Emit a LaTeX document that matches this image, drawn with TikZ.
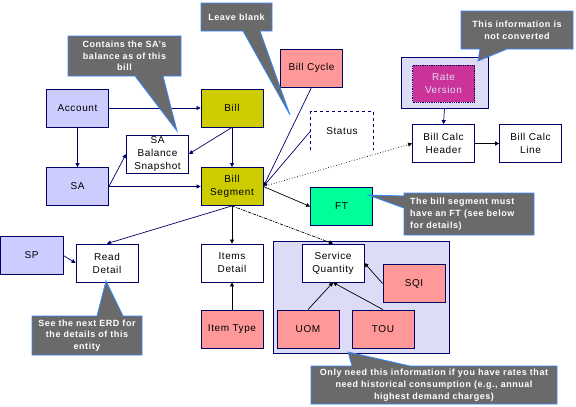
\documentclass[tikz,border=0pt]{standalone}
\usepackage{fontspec}
\setmainfont{Liberation Sans}[LetterSpace=6]
\usetikzlibrary{arrows.meta}

\definecolor{navy}{HTML}{000066}
\definecolor{lav}{HTML}{CCCCFF}
\definecolor{lavlight}{HTML}{DCDCF6}
\definecolor{olive}{HTML}{CCCC00}
\definecolor{salmon}{HTML}{FF9999}
\definecolor{ftgreen}{HTML}{00FF99}
\definecolor{rategr}{HTML}{CC3399}
\definecolor{notegray}{HTML}{6A6A6A}
\definecolor{noteblue}{HTML}{3388FF}

\tikzset{
  box/.style={draw=navy, line width=0.8pt, minimum width=62pt, minimum height=38pt,
    inner sep=0pt, align=center, font=\fontsize{10}{13}\selectfont},
  link/.style={navy, line width=0.7pt, -{Triangle[length=4pt,width=4pt]}},
  note/.style={fill=notegray, draw=noteblue, line width=0.8pt},
  notetext/.style={text=white, align=center, inner sep=0pt,
    font=\fontsize{9}{11.7}\selectfont\bfseries}
}

\begin{document}
\begin{tikzpicture}[x=1pt, y=-1pt]
\useasboundingbox (0,0) rectangle (576,407);

% -------- grouped boxes -----------
\node [box, fill=lavlight, minimum width=176pt, minimum height=112pt] (group) at (361,297) {};
\node [box, fill=lavlight, minimum width=87pt, minimum height=51pt] (rateout) at (444.5,82.5) {};

% -------- entities -----------
\node [box, fill=lav]  (account) at (77.5,108)   {Account};
\node [box, fill=olive] (bill)   at (232,108)    {Bill};
\node [box, fill=lav]  (sa)      at (77.5,186.5) {SA};
\node [box, fill=white] (snap)   at (157.5,154)  {SA\\Balance\\Snapshot};
\node [box, fill=olive] (seg)    at (232,186.5)  {Bill\\Segment};
\node [box, fill=salmon] (cycle) at (311.5,68)   {Bill Cycle};
\node [box, draw=none] (status)  at (342,131)    {Status};
\draw [navy, line width=0.8pt, dashed] (status.south west) -- (status.north west)
      -- (status.north east) -- (status.south east);
\node [box, fill=rategr, draw=navy, densely dotted, text=lavlight, minimum height=37pt] (rate) at (443.5,83.5) {Rate\\Version};
\node [box] (header) at (443.5,143.5) {Bill Calc\\Header};
\node [box] (line)   at (530.5,143.5) {Bill Calc\\Line};
\node [box, fill=ftgreen] (ft) at (341.5,206.5) {FT};
\node [box, fill=lav, minimum width=63pt] (sp) at (31.5,255.5) {SP};
\node [box] (read)   at (107,263)   {Read\\Detail};
\node [box] (items)  at (232,263)   {Items\\Detail};
\node [box, fill=salmon] (itype) at (232,329) {Item Type};
\node [box, fill=white] (sq) at (333,263) {Service\\Quantity};
\node [box, fill=salmon] (sqi) at (414,283.5) {SQI};
\node [box, fill=salmon] (uom) at (308,329) {UOM};
\node [box, fill=salmon] (tou) at (383,329) {TOU};

% -------- relations -----------
\draw [link] (account) -- (bill);
\draw [link] (account) -- (sa);
\draw [link] (sa.east) -- (snap.west);
\draw [link] (bill.south) -- (snap.east);
\draw [link] (bill) -- (seg);
\draw [link] (sa) -- (seg);
\draw [link] (cycle.south) -- (seg.east);
\draw [link] (status.west) -- (seg.east);
\draw [link, black, dotted] (seg.east) -- (header.west);
\draw [link] (rateout.south) -- (header.north);
\draw [link, black] (header) -- (line);
\draw [link, black] (seg.east) -- (ft.west);
\draw [link] (seg.south) -- (read.north);
\draw [link, black] (seg) -- (items);
\draw [link, black, densely dash dot] (seg.south) -- (sq.north);
\draw [link] (sp.east) -- (read.west);
\draw [link, black] (itype) -- (items);
\draw [link, black] (sqi.west) -- (sq.east);
\draw [link, black] (uom.north) -- (sq.south);
\draw [link, black] (tou.north) -- (sq.south);

% -------- notes -----------
\draw [note] (68,36) -- (181,36) -- (181,76) -- (163,76) -- (177,131) -- (135,76) -- (68,76) -- cycle;
\node [notetext] (balnote) at (124.5,56) {Contains the SA's\\balance as of this\\bill};

\draw [note] (201,3) -- (272,3) -- (272,31) -- (260,31) -- (290,115) -- (243,31) -- (201,31) -- cycle;
\node [notetext] (blanknote) at (236.5,17) {Leave blank};

\draw [note] (461,11) -- (573,11) -- (573,49) -- (507,49) -- (478,61) -- (480,49) -- (461,49) -- cycle;
\node [notetext] (convnote) at (517,30) {This information is\\not converted};

\draw [note] (404,193) -- (534,193) -- (534,235) -- (404,235) -- (404,208) -- (368,195) -- (404,196) -- cycle;
\node [notetext, align=left, anchor=west] (ftnote) at (410,214) {The bill segment must\\have an FT (see below\\for details)};

\draw [note] (32,316) -- (97,316) -- (106,281) -- (123,316) -- (142,316) -- (142,355) -- (32,355) -- cycle;
\node [notetext] (erdnote) at (87,335.5) {See the next ERD for\\the details of this\\entity};

\draw [note] (311,366) -- (352,366) -- (348,352) -- (410,366) -- (557,366) -- (557,404) -- (311,404) -- cycle;
\node [notetext] (histnote) at (434,385) {Only need this information if you have rates that\\need historical consumption (e.g., annual\\highest demand charges)};

\end{tikzpicture}
\end{document}
